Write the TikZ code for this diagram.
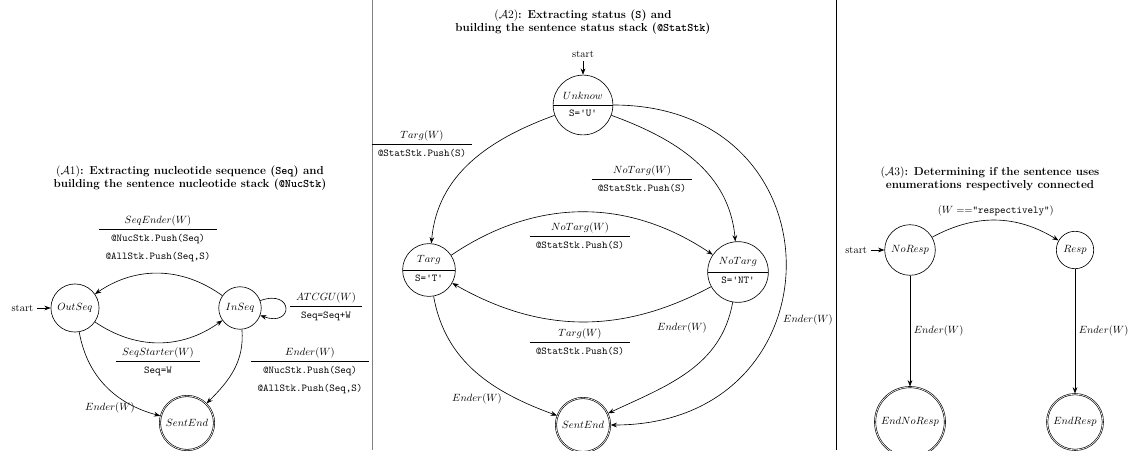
\documentclass[tikz,border=0pt]{standalone}
\usepackage{amsmath,amssymb}
\usepackage{tikz}
\usetikzlibrary{automata,shapes.multipart,arrows.meta}
\newcommand{\act}[2]{\renewcommand{\arraystretch}{1.4}\begin{tabular}{c}#1\\\hline #2\end{tabular}}
\newcommand{\heading}{\fontsize{11}{13}\selectfont\bfseries}

\begin{document}
\begin{tikzpicture}[x=0.0335cm,y=-0.0335cm,>={Stealth[length=6pt,width=4.5pt]},semithick,
				every state/.append style={inner sep=4.5pt}]
				\useasboundingbox (0,0) rectangle (1140,450);
				
				%separating the three automata
				\draw[gray] (372,0) -- (372,450);
				\draw (836,0) -- (836,450);
				
				%(A1) nucleotide sequence
				\node[align=center,font=\heading] (titleone) at (190,178) {$(\mathcal{A}1)$: Extracting nucleotide sequence (\texttt{Seq}) and\\building the sentence nucleotide stack (\texttt{@NucStk})};
				\node[state,initial,initial text=start] (outseq) at (75,308) {$OutSeq$};
				\node[state] (inseq) at (240,308) {$InSeq$};
				\node[state,accepting] (sentendone) at (187,423) {$SentEnd$};
				\path[->] (inseq) edge[bend right=35] (outseq)
				          (outseq) edge[bend right=35] (inseq)
				          (inseq) edge[loop,out=20,in=-20,min distance=12mm] (inseq)
				          (outseq) edge[out=-80,in=165] (sentendone)
				          (inseq) edge[out=-85,in=45] (sentendone);
				\node (seqender) at (158,238) {\act{$SeqEnder(W)$}{\texttt{@NucStk.Push(Seq)}\\\texttt{@AllStk.Push(Seq,S)}}};
				\node (seqstarter) at (158,361) {\act{$SeqStarter(W)$}{\texttt{Seq=W}}};
				\node (atcgu) at (326,306) {\act{$ATCGU(W)$}{\texttt{Seq=Seq+W}}};
				\node (enderin) at (310,370) {\act{$Ender(W)$}{\texttt{@NucStk.Push(Seq)}\\\texttt{@AllStk.Push(Seq,S)}}};
				\node (enderout) at (110,408) {$Ender(W)$};
				
				%(A2) status
				\node[align=center,font=\heading] (titletwo) at (583,22) {$(\mathcal{A}2)$: Extracting status (\texttt{S}) and\\building the sentence status stack (\texttt{@StatStk})};
				\node[state with output,initial above,initial text=start] (unknow) at (583,105) {$Unknow$\nodepart{lower}\texttt{S='U'}};
				\node[state with output] (targ) at (429,270) {$Targ$\nodepart{lower}\texttt{S='T'}};
				\node[state with output] (notarg) at (738,272) {$NoTarg$\nodepart{lower}\texttt{S='NT'}};
				\node[state,accepting] (sentendtwo) at (583,425) {$SentEnd$};
				\path[->] (unknow) edge[out=200,in=85] (targ)
				          (unknow) edge[out=-20,in=95] (notarg)
				          (unknow) edge[out=0,in=0,looseness=1.85] (sentendtwo)
				          (targ) edge[bend left=34] (notarg)
				          (notarg) edge[bend left=29] (targ)
				          (targ) edge[out=-80,in=160] (sentendtwo)
				          (notarg) edge[out=-100,in=25] (sentendtwo);
				\node (targtop) at (422,144) {\act{$Targ(W)$}{\texttt{@StatStk.Push(S)}}};
				\node (notargtop) at (642,179) {\act{$NoTarg(W)$}{\texttt{@StatStk.Push(S)}}};
				\node (notargmid) at (580,236) {\act{$NoTarg(W)$}{\texttt{@StatStk.Push(S)}}};
				\node (targmid) at (580,342) {\act{$Targ(W)$}{\texttt{@StatStk.Push(S)}}};
				\node (endertarg) at (477,399) {$Ender(W)$};
				\node (endernotarg) at (682,328) {$Ender(W)$};
				\node (enderunknow) at (808,320) {$Ender(W)$};
				
				%(A3) respectively
				\node[align=center,font=\heading] (titlethree) at (990,179) {$(\mathcal{A}3)$: Determining if the sentence uses\\enumerations respectively connected};
				\node[state,initial,initial text=start] (noresp) at (910,250) {$NoResp$};
				\node[state] (resp) at (1075,250) {$Resp$};
				\node[state,accepting] (endnoresp) at (910,422) {$EndNoResp$};
				\node[state,accepting] (endresp) at (1075,422) {$EndResp$};
				\path[->] (noresp) edge[bend left=30] node[above] {$(W ==$\texttt{"respectively"}$)$} (resp)
				          (noresp) edge node[right] {$Ender(W)$} (endnoresp)
				          (resp) edge node[right] {$Ender(W)$} (endresp);
			\end{tikzpicture}
\end{document}
